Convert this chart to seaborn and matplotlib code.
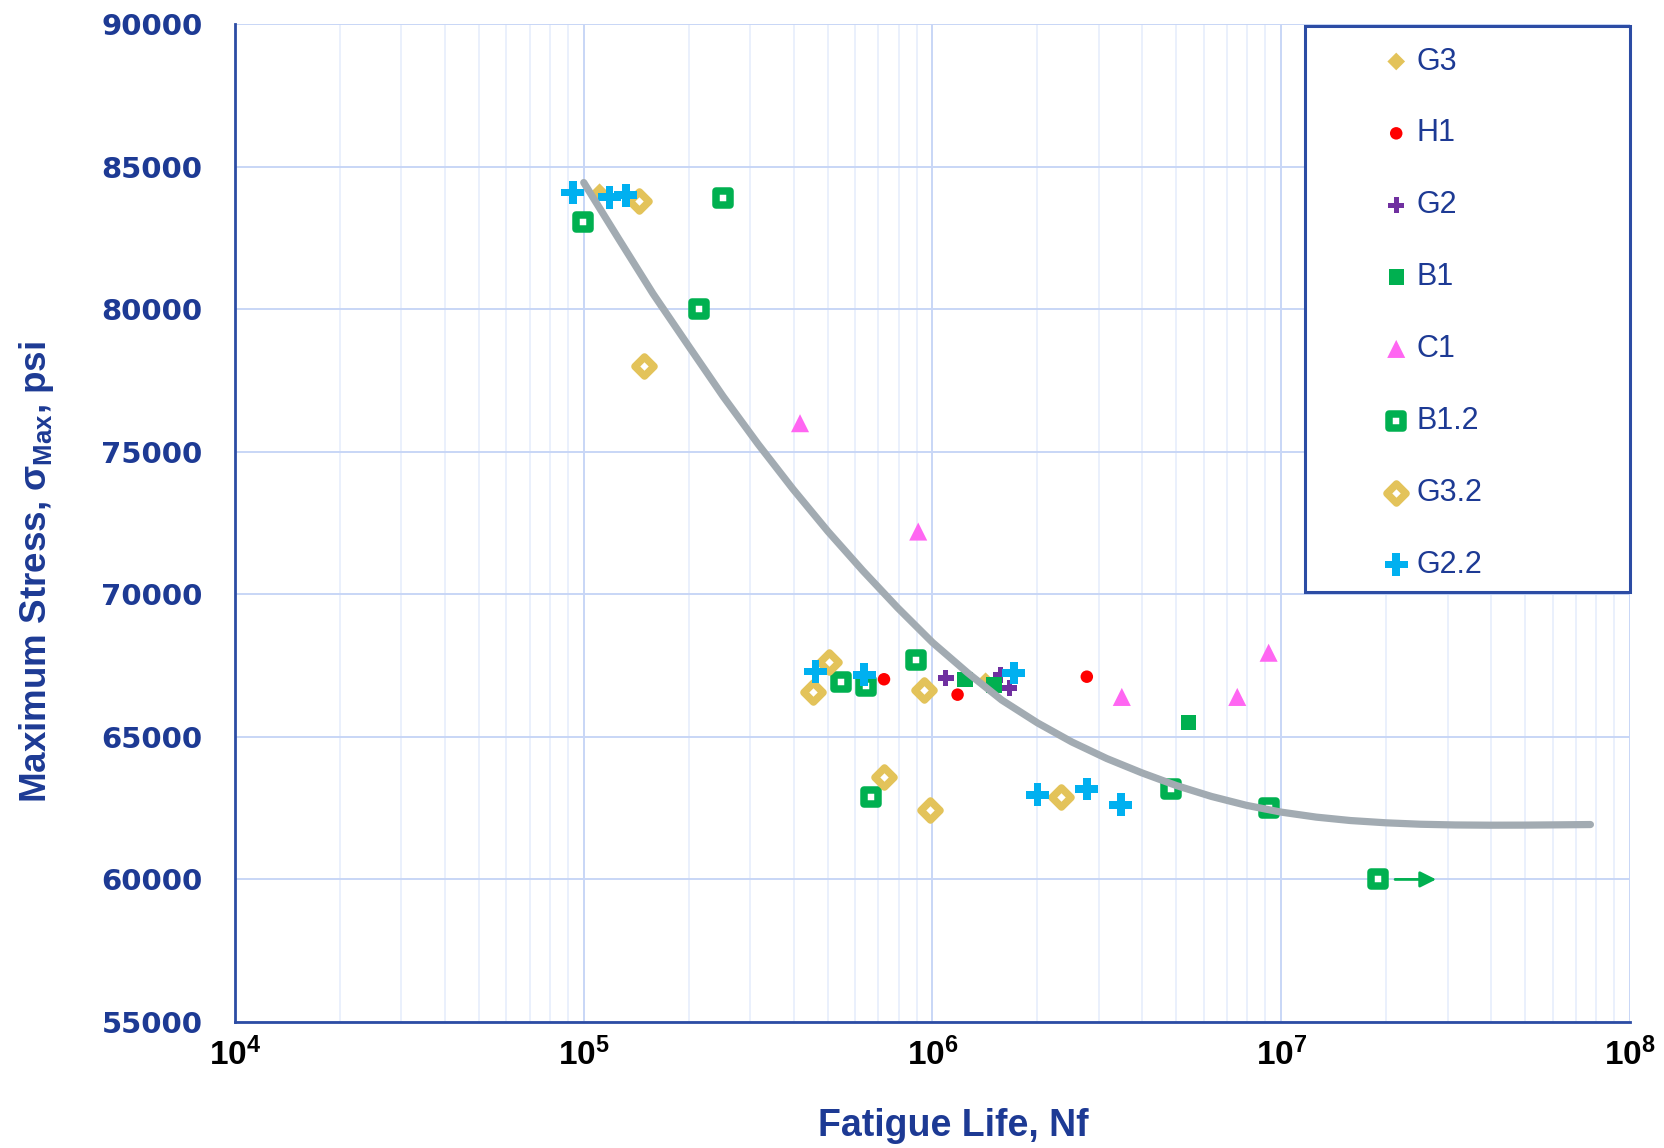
import numpy as np
import matplotlib
matplotlib.use("Agg")
import matplotlib.pyplot as plt
from matplotlib.patches import Rectangle
from matplotlib.ticker import LogLocator, FuncFormatter, NullFormatter
import seaborn as sns

# ---- fatigue test results: cycles to failure and maximum stress (psi) ----
g3_n = [1.11e5, 1.42e6]
g3_s = [84100, 66950]

h1_n = [7.26e5, 1.18e6, 2.77e6]
h1_s = [67020, 66480, 67110]

g2_n = [1.09e6, 1.57e6, 1.66e6]
g2_s = [67060, 67180, 66710]

b1_n = [1.24e6, 1.50e6, 5.41e6]
b1_s = [67000, 66820, 65500]

c1_n = [4.17e5, 9.10e5, 3.49e6, 7.48e6, 9.20e6]
c1_s = [76000, 72200, 66400, 66400, 67950]

b12_n = [9.97e4, 2.51e5, 2.14e5, 5.46e5, 6.43e5, 8.95e5, 6.65e5, 4.84e6, 9.20e6, 1.90e7]
b12_s = [83070, 83890, 80010, 66940, 66770, 67700, 62890, 63170, 62500, 60000]

g32_n = [1.44e5, 1.49e5, 4.53e5, 5.05e5, 9.45e5, 7.26e5, 9.82e5, 2.33e6]
g32_s = [83800, 77990, 66590, 67640, 66650, 63590, 62420, 62890]

g22_n = [9.3e4, 1.186e5, 1.32e5, 4.62e5, 6.37e5, 1.71e6, 2.00e6, 2.77e6, 3.47e6]
g22_s = [84090, 83930, 84000, 67290, 67180, 67240, 62970, 63170, 62620]

# S-N trend curve
curve_n = [1.0e5, 1.26e5, 1.58e5, 2.0e5, 2.51e5, 3.16e5, 3.98e5, 5.01e5, 6.31e5,
           7.94e5, 1.0e6, 1.26e6, 1.58e6, 2.0e6, 2.51e6, 3.16e6, 3.98e6, 5.01e6,
           6.31e6, 7.94e6, 1.0e7, 1.26e7, 1.58e7, 2.0e7, 2.51e7, 3.16e7, 3.98e7,
           5.01e7, 6.31e7, 7.7e7]
curve_s = [84440, 82460, 80540, 78700, 76940, 75270, 73690, 72210, 70830,
           69530, 68310, 67250, 66290, 65490, 64820, 64240, 63740, 63290,
           62910, 62600, 62360, 62185, 62065, 61985, 61935, 61910, 61902,
           61905, 61915, 61925]

# run-out specimen (arrow to the right)
runout_from = 2.12e7
runout_to = 2.78e7
runout_s = 60000

x_ticks = [1e4, 1e5, 1e6, 1e7, 1e8]
y_ticks = [55000, 60000, 65000, 70000, 75000, 80000, 85000, 90000]

# ---- style ----
sns.set_style("white")
plt.rcParams["font.family"] = ["Liberation Sans", "DejaVu Sans"]
plt.rcParams["mathtext.fontset"] = "custom"
plt.rcParams["mathtext.rm"] = "Liberation Sans"
plt.rcParams["mathtext.bf"] = "Liberation Sans:bold"
plt.rcParams["mathtext.it"] = "Liberation Sans:italic"

NAVY_TXT = "#1D3A94"
NAVY_LN = "#2C4CA4"
YELLOW = "#E3C35A"
RED = "#FF0000"
PURPLE = "#7030A0"
GREEN = "#00B050"
PINK = "#FF66F2"
CYAN = "#00B0F0"

fig = plt.figure(figsize=(16.65, 11.48), dpi=100)
ax = fig.add_axes([0.14114, 0.10976, 0.97898 - 0.14114, 0.97909 - 0.10976])

series = [
    ("G3", g3_n, g3_s, "D", 9.0, YELLOW, "none", 0),
    ("H1", h1_n, h1_s, "o", 9.0, RED, "none", 0),
    ("G2", g2_n, g2_s, "P", 11.5, PURPLE, "none", 0),
    ("B1", b1_n, b1_s, "s", 11.0, GREEN, "none", 0),
    ("C1", c1_n, c1_s, "^", 13.0, PINK, "none", 0),
    ("B1.2", b12_n, b12_s, "s", 10.4, "white", GREEN, 5.4),
    ("G3.2", g32_n, g32_s, "D", 9.7, "white", YELLOW, 5.4),
    ("G2.2", g22_n, g22_s, "P", 16.5, CYAN, "none", 0),
]

for i, (lab, n, s, mk, size, face, edge, lw) in enumerate(series):
    sns.scatterplot(x=n, y=s, ax=ax, marker=mk, s=size ** 2, color=face,
                    edgecolor=edge, linewidth=lw, label=lab, zorder=3 + i,
                    legend=False)

sns.lineplot(x=curve_n, y=curve_s, ax=ax, color="#A2ABB2", linewidth=5.2,
             estimator=None, sort=False, zorder=15, solid_capstyle="round",
             solid_joinstyle="round")

ax.annotate("", xy=(runout_to, runout_s), xytext=(runout_from, runout_s),
            arrowprops=dict(arrowstyle="-|>", color=GREEN, lw=2,
                            mutation_scale=24, shrinkA=0, shrinkB=0),
            zorder=12)

# ---- axes ----
ax.set_xscale("log")
ax.set_xlim(1e4, 1e8)
ax.set_ylim(55000, 90000)
ax.set_yticks(y_ticks)
ax.set_xticks(x_ticks)
ax.xaxis.set_minor_locator(LogLocator(base=10, subs=np.arange(2, 10), numticks=20))
ax.xaxis.set_minor_formatter(NullFormatter())
ax.xaxis.set_major_formatter(FuncFormatter(
    lambda v, p: r"$\mathbf{10^{%d}}$" % int(round(np.log10(v)))))

ax.set_axisbelow(True)
ax.grid(which="major", axis="both", color="#C8D6F6", linewidth=1.4)
ax.grid(which="minor", axis="x", color="#E4ECFC", linewidth=1.1)

for side in ("top", "right"):
    ax.spines[side].set_visible(False)
for side in ("left", "bottom"):
    ax.spines[side].set_color(NAVY_LN)
    ax.spines[side].set_linewidth(2.0)

ax.tick_params(axis="y", which="major", direction="inout", length=17, width=2,
               color=NAVY_LN, labelsize=21, labelcolor=NAVY_TXT, pad=15)
ax.tick_params(axis="x", which="major", direction="inout", length=17, width=2,
               color=NAVY_LN, labelsize=24, labelcolor="black", pad=3)
ax.tick_params(axis="x", which="minor", direction="out", length=8, width=1.8,
               color=NAVY_LN)
for lbl in ax.get_yticklabels():
    lbl.set_fontfamily("DejaVu Sans")
    lbl.set_fontweight("bold")

ax.set_xlabel("Fatigue Life, Nf", fontsize=27, fontweight="bold", color=NAVY_TXT)
ax.xaxis.label.set_va("center")
ax.xaxis.set_label_coords(0.5147, -0.1042)
ax.set_ylabel(r"Maximum Stress, σ$_{\mathbf{Max}}$, psi", fontsize=26.5,
              fontweight="bold", color=NAVY_TXT)
ax.yaxis.label.set_va("center")
ax.yaxis.set_label_coords(-0.1425, 0.4509)

# ---- legend ----
box = Rectangle((0.767, 0.4304), 0.233, 0.9985 - 0.4304, transform=ax.transAxes,
                facecolor="white", edgecolor=NAVY_LN, linewidth=2.2,
                clip_on=False, zorder=20)
ax.add_patch(box)
handles, labels = ax.get_legend_handles_labels()
leg = ax.legend(handles, labels, loc="upper left",
                bbox_to_anchor=(1384 / 1665, 1 - 46.5 / 1148),
                bbox_transform=fig.transFigure, frameon=False,
                prop={"family": "Liberation Sans", "size": 22},
                labelcolor=NAVY_TXT, handlelength=0.8, handletextpad=0.25,
                labelspacing=1.37, borderpad=0, borderaxespad=0,
                markerscale=1.0)
leg.set_zorder(25)

fig.savefig("out.png", dpi=100)
